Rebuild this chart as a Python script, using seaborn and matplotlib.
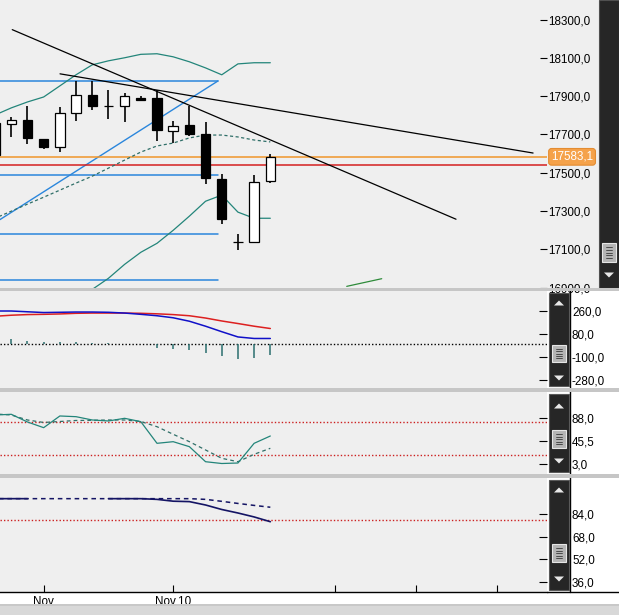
import numpy as np
import pandas as pd
import matplotlib
matplotlib.use("Agg")
import matplotlib.pyplot as plt
import matplotlib.transforms as mtransforms
import seaborn as sns
from matplotlib.patches import Rectangle, Polygon
from matplotlib.lines import Line2D
from matplotlib.ticker import FixedLocator, FuncFormatter, NullFormatter

# ---------------- data ----------------
bar_idx = list(range(18))
open_ = [17759, 17753, 17774, 17676, 17633, 17811, 17907, 17851, 17848, 17893,
         17893, 17720, 17750, 17702, 17467, 17138, 17140, 17455]
high = [17800, 17793, 17849, 17676, 17844, 17977, 17977, 17933, 17916, 17902,
        17933, 17771, 17849, 17767, 17491, 17178, 17488, 17596]
low = [17560, 17688, 17649, 17625, 17610, 17771, 17828, 17783, 17767, 17881,
       17666, 17654, 17692, 17439, 17234, 17098, 17137, 17444]
close = [17592, 17776, 17683, 17636, 17811, 17905, 17851, 17848, 17902, 17881,
         17724, 17743, 17704, 17470, 17259, 17138, 17452, 17583.1]

bb_upper = [17802, 17839, 17870, 17896, 17954, 18012, 18064, 18085, 18101, 18119,
            18122, 18106, 18080, 18048, 18012, 18069, 18075, 18075]
bb_mid = [17262, 17299, 17336, 17372, 17409, 17446, 17482, 17524, 17566, 17608,
          17640, 17655, 17682, 17697, 17697, 17687, 17671, 17661]
bb_lower = [16701, 16738, 16780, 16822, 16848, 16869, 16890, 16948, 17021, 17084,
            17131, 17199, 17273, 17351, 17383, 17294, 17262, 17262]

last_price = 17583.1
red_level = 17540
fib_levels = [17980, 17488, 17182, 16941]
fib_span = [0.30, 13.77]
channel_x = [0.30, 13.77]
channel_y = [17255, 17980]
trend_a_x = [1.06, 28.47]
trend_a_y = [18248, 17257]
trend_b_x = [4.01, 33.23]
trend_b_y = [18017, 17603]
green_x = [21.72, 23.88]
green_y = [16906, 16946]

macd = [260, 260, 254, 248, 250, 252, 252, 250, 244, 234, 223, 207, 180, 141, 98, 57, 45, 45]
macd_signal = [219, 227, 232, 234, 237, 242, 244, 244, 244, 242, 238, 232, 223, 205, 182, 162, 141, 123]
macd_hist = [45, 39, 26, 18, 18, 18, 8, 8, 0, 0, -31, -39, -47, -65, -91, -117, -104, -86]

stoch_k = [93.5, 94.8, 80.6, 70.1, 91.7, 90.4, 84.3, 82.5, 87.4, 81.2, 41.2, 44.2,
           35.0, 7.2, 3.9, 4.8, 41.2, 54.7]
stoch_d = [95.4, 93.5, 84.3, 79.7, 81.5, 83.4, 83.7, 84.3, 84.3, 81.5, 71.9, 57.9,
           44.2, 28.9, 13.5, 7.2, 20.9, 32.0]

p4_solid = [95.1, 95.1, 95.1, np.nan, np.nan, np.nan, np.nan, 95.1, 95.1, 95.1,
            94.6, 93.3, 93.0, 90.6, 87.4, 84.9, 82.1, 78.7]
p4_dashed = [95.1, 95.1, 95.1, 95.1, 95.1, 95.1, 95.1, 95.1, 95.1, 95.1,
             95.1, 95.1, 95.1, 94.6, 93.2, 91.7, 90.3, 89.0]

main_ticks = [16900, 17100, 17300, 17500, 17700, 17900, 18100, 18300]
macd_ticks = [-280, -100, 80, 260]
stoch_ticks = [3, 45.5, 88]
p4_ticks = [36, 52, 68, 84]
x_tick_pos = [3, 11, 21, 26, 31]
x_tick_labels = ["Nov", "Nov.10", "", "", ""]

# ---------------- style ----------------
sns.set_style("white")
plt.rcParams['font.family'] = ['Liberation Sans', 'DejaVu Sans']
FS = 8.4
BG = '#efefef'
TEAL = '#23857a'

W, H = 619, 615
fig = plt.figure(figsize=(W / 100, H / 100), dpi=100, facecolor='white')


def ax_at(top, bottom, left=0, right=547):
    a = fig.add_axes([left / W, 1 - bottom / H, (right - left) / W, (bottom - top) / H])
    a.set_facecolor(BG)
    for s in a.spines.values():
        s.set_visible(False)
    return a


def frect(x0, y0, x1, y1, z=5, **kw):
    fig.add_artist(Rectangle((x0 / W, 1 - y1 / H), (x1 - x0) / W, (y1 - y0) / H,
                             transform=fig.transFigure, zorder=z, **kw))


def fline(xs, ys, z=6, **kw):
    fig.add_artist(Line2D([x / W for x in xs], [1 - y / H for y in ys],
                          transform=fig.transFigure, zorder=z, **kw))


def tri(cx, cy, up, z=7):
    s = 1 if up else -1
    pts = [((cx - 5) / W, 1 - (cy + 2.5 * s) / H), ((cx + 5) / W, 1 - (cy + 2.5 * s) / H),
           (cx / W, 1 - (cy - 2.5 * s) / H)]
    fig.add_artist(Polygon(pts, closed=True, transform=fig.transFigure, zorder=z,
                           fc='#e8e8e8', ec='none'))


def thumb(x0, y0, x1, y1):
    frect(x0, y0, x1, y1, z=6, fc='#b4b4b4', ec='#e6e6e6', lw=0.8)
    for yy in np.linspace(y0 + 4, y1 - 4, 5):
        fline([x0 + 4, x1 - 4], [yy, yy], z=7, color='#3a3a3a', lw=0.6)


def comma_fmt(v, pos=None):
    return f"{v:.1f}".replace('.', ',')


XL = (0.303, 34.09)

# background of main label area
frect(547, 0, 599, 287.5, z=-1, fc=BG, ec='none')

# ---------------- main price panel ----------------
ax = ax_at(0, 287.5)
ax.set_xlim(*XL)
ax.set_ylim(16900, 18403)

# horizontal fibonacci-like levels and channel line
for lv in fib_levels:
    ax.plot(fib_span, [lv, lv], color='#2a86dc', lw=1.1, zorder=2)
ax.plot(channel_x, channel_y, color='#2a86dc', lw=1.0, zorder=2)

# last price and red level lines
ax.axhline(last_price, color='#f0962a', lw=1.1, zorder=2)
ax.axhline(red_level, color='#d42020', lw=1.1, zorder=2)

# bollinger bands
sns.lineplot(x=bar_idx, y=bb_upper, ax=ax, color=TEAL, lw=0.9, legend=False, zorder=3)
sns.lineplot(x=bar_idx, y=bb_lower, ax=ax, color=TEAL, lw=0.9, legend=False, zorder=3)
sns.lineplot(x=bar_idx, y=bb_mid, ax=ax, color='#2f6f68', lw=0.9, legend=False,
             linestyle=(0, (2.5, 2)), zorder=3)

# trend lines
ax.plot(trend_a_x, trend_a_y, color='black', lw=0.9, zorder=4)
ax.plot(trend_b_x, trend_b_y, color='black', lw=0.9, zorder=4)
ax.plot(green_x, green_y, color='#2e8b3a', lw=0.9, zorder=4)

# candles
o = np.array(open_, float)
c = np.array(close, float)
ax.vlines(bar_idx, low, high, color='black', lw=1.2, zorder=5)
body = np.where(np.abs(c - o) < 1, 0.5, c - o)
fills = ['white' if cc >= oo else 'black' for oo, cc in zip(o, c)]
ax.bar(bar_idx, body, bottom=o, width=0.58, color=fills, edgecolor='black',
       linewidth=0.9, zorder=6)

ax.yaxis.tick_right()
ax.yaxis.set_major_locator(FixedLocator(main_ticks))
ax.yaxis.set_major_formatter(FuncFormatter(comma_fmt))
ax.tick_params(axis='y', which='both', direction='in', length=5, width=0.8, pad=1.2,
               labelsize=FS, right=True, left=False, colors='black')
ax.tick_params(axis='x', bottom=False, labelbottom=False)
ax.set_xlabel('')
ax.set_ylabel('')

trans = mtransforms.blended_transform_factory(ax.transAxes, ax.transData)
ax.text(551 / 547, last_price, comma_fmt(last_price), transform=trans, ha='left',
        va='center', fontsize=FS, color='white', clip_on=False, zorder=10,
        bbox=dict(boxstyle='round,pad=0.2,rounding_size=0.25', fc='#f5a24a',
                  ec='#e38c32', lw=0.8))

# ---------------- MACD panel ----------------
ax2 = ax_at(291, 388)
ax2.set_xlim(*XL)
ax2.set_ylim(-342.6, 416.6)
ax2.axhline(0, color='black', lw=1.0, linestyle=(0, (1, 1.5)), zorder=2)
ax2.vlines(bar_idx, 0, macd_hist, color='#2a6e6e', lw=1.1, zorder=3)
sns.lineplot(x=bar_idx, y=macd_signal, ax=ax2, color='#dd2020', lw=1.1, legend=False, zorder=4)
sns.lineplot(x=bar_idx, y=macd, ax=ax2, color='#1010c8', lw=1.1, legend=False, zorder=5)

# ---------------- stochastic panel ----------------
ax3 = ax_at(392, 474)
ax3.set_xlim(*XL)
ax3.set_ylim(-15.5, 136)
for lv in (80, 20):
    ax3.axhline(lv, color='#cc2020', lw=1.0, linestyle=(0, (1, 1.5)), zorder=2)
sns.lineplot(x=bar_idx, y=stoch_d, ax=ax3, color='#2f6f68', lw=0.9, legend=False,
             linestyle=(0, (3, 2.5)), zorder=3)
sns.lineplot(x=bar_idx, y=stoch_k, ax=ax3, color=TEAL, lw=0.9, legend=False, zorder=4)

# ---------------- panel 4 ----------------
ax4 = ax_at(478, 592)
ax4.set_xlim(*XL)
ax4.set_ylim(28.7, 109.8)
ax4.axhline(80, color='#cc2020', lw=1.0, linestyle=(0, (1, 1.5)), zorder=2)
ax4.plot(bar_idx, p4_solid, color='#141464', lw=1.2, zorder=4)
sns.lineplot(x=bar_idx, y=p4_dashed, ax=ax4, color='#141464', lw=1.1, legend=False,
             linestyle=(0, (3, 2.5)), zorder=3)

for a, tk in ((ax2, macd_ticks), (ax3, stoch_ticks), (ax4, p4_ticks)):
    a.yaxis.tick_right()
    a.yaxis.set_major_locator(FixedLocator(tk))
    a.yaxis.set_major_formatter(FuncFormatter(comma_fmt))
    a.tick_params(axis='y', direction='in', length=6, width=0.8, pad=18, labelsize=FS,
                  right=True, left=False, colors='black')
    a.set_xlabel('')
    a.set_ylabel('')

for a in (ax2, ax3):
    a.tick_params(axis='x', bottom=False, labelbottom=False)

ax4.spines['bottom'].set_visible(True)
ax4.spines['bottom'].set_color('black')
ax4.spines['bottom'].set_linewidth(1.0)
ax4.xaxis.set_major_locator(FixedLocator(x_tick_pos))
ax4.set_xticklabels(x_tick_labels)
ax4.tick_params(axis='x', direction='in', length=5, width=0.8, pad=3, labelsize=FS,
                bottom=True, colors='black')

# ---------------- frame decorations ----------------
# separators
for y0, y1 in ((287.5, 291), (388, 392), (474, 478)):
    frect(0, y0, 619, y1, z=8, fc='#c6c6c6', ec='none')
# bottom bar
frect(0, 604, 619, 615, z=8, fc='#d8d8d8', ec='none')
frect(0, 604, 619, 606, z=8, fc='#c8c8c8', ec='none')
# x axis line extended and vertical label line
fline([547, 619], [592, 592], color='black', lw=1.0)
fline([570, 570], [291, 592], color='black', lw=1.0)

# main scrollbar
frect(599, 0, 619, 287.5, z=6, fc='#262626', ec='#505050', lw=0.8)
thumb(602, 243, 616, 262)
tri(609, 275, up=False)

# lower scrollbars
for (y0, y1, up_y, t0, t1, dn_y) in ((293, 386, 303, 345, 362, 378),
                                      (394, 472, 406, 430, 448, 461),
                                      (480, 590, 490, 544, 562, 579)):
    frect(549, y0, 569, y1, z=6, fc='#262626', ec='#5a5a5a', lw=0.8)
    tri(559, up_y, up=True)
    thumb(552, t0, 566, t1)
    tri(559, dn_y, up=False)

fig.savefig('out.png', dpi=100, facecolor=fig.get_facecolor())
